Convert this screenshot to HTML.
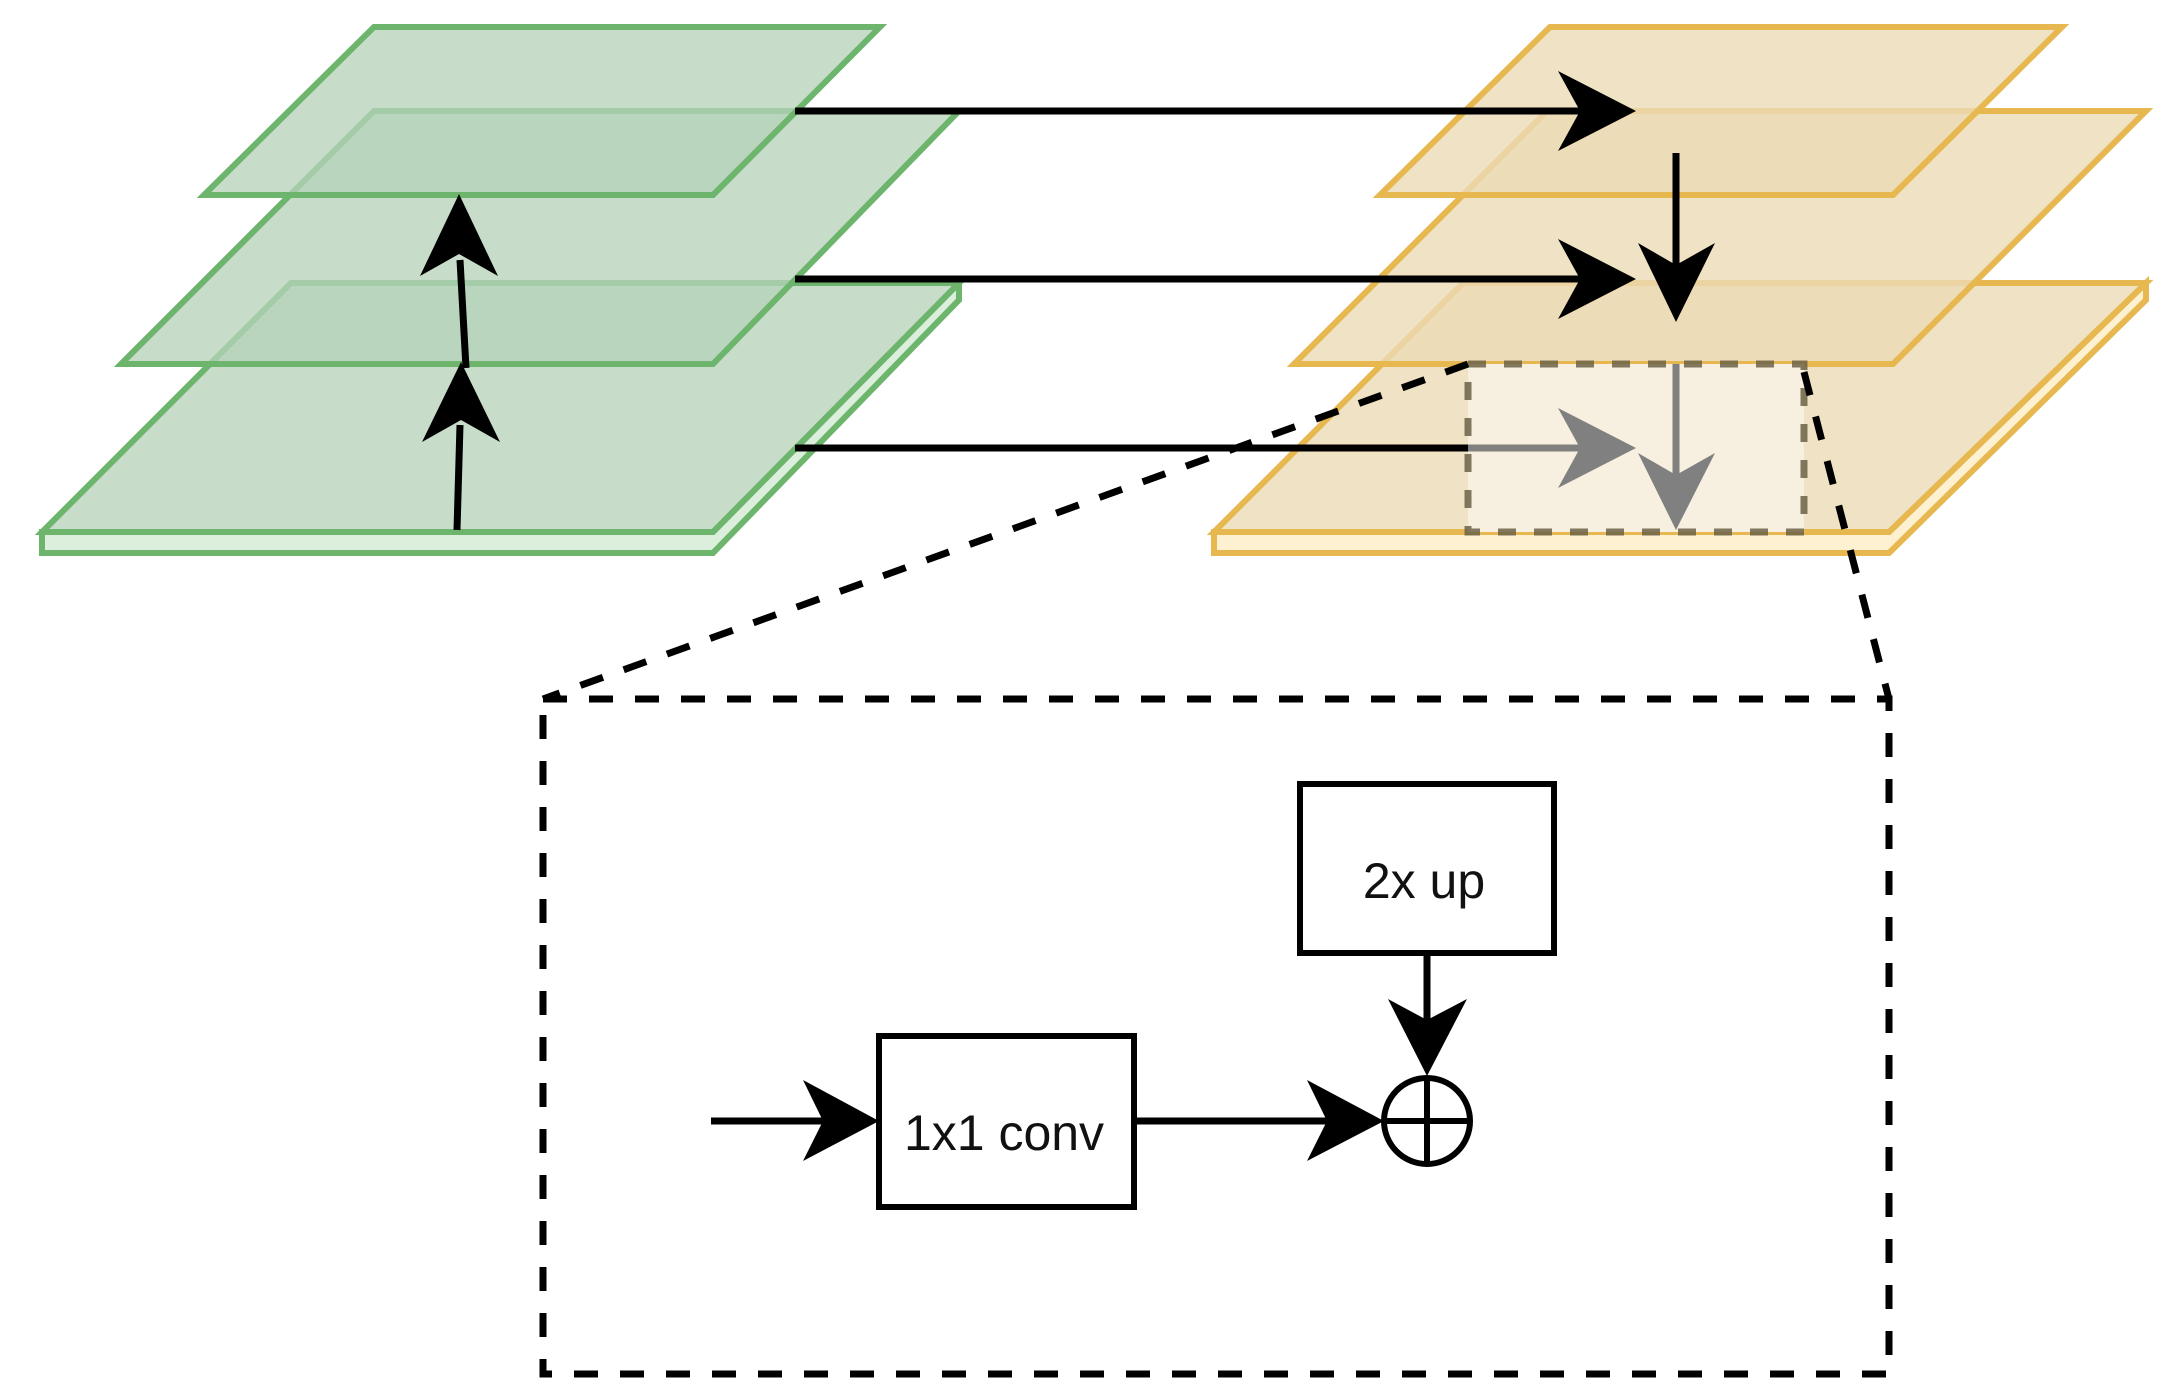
<!DOCTYPE html>
<html><head><meta charset="utf-8"><style>html,body{margin:0;padding:0;background:#fff}svg{display:block}</style></head>
<body>
<svg width="2172" height="1399" viewBox="0 0 2172 1399" xmlns="http://www.w3.org/2000/svg" font-family="Liberation Sans, sans-serif">
<!-- green stack -->
<g stroke="#6db56d" stroke-width="6" stroke-linejoin="miter">
  <polygon points="959,283 959,300 713,553 42,553 42,532 713,532" fill="#dcefdc"/>
  <polygon points="291,283 959,283 713,532 42,532" fill="rgba(182,211,186,0.77)"/>
  <polygon points="374,111 959,111 713,364 121,364" fill="rgba(182,211,186,0.77)"/>
  <polygon points="374,27 880,27 713,195 204,195" fill="rgba(182,211,186,0.77)"/>
</g>
<!-- orange stack -->
<g stroke="#e6b84f" stroke-width="6">
  <polygon points="2146,283 2146,300 1889,553 1214,553 1214,532 1889,532" fill="#fdf1d2"/>
  <polygon points="1463,283 2146,283 1889,532 1214,532" fill="rgba(236,219,181,0.8)"/>
  <polygon points="1547,111 2146,111 1893,364 1294,364" fill="rgba(236,219,181,0.8)"/>
  <polygon points="1550,27 2062,27 1893,195 1380,195" fill="rgba(236,219,181,0.8)"/>
</g>
<!-- highlight rect -->
<rect x="1468" y="364" width="336" height="168" fill="#f7efdf" stroke="#6b6147" stroke-width="7" stroke-dasharray="18 18" stroke-opacity="0.85"/>
<!-- green up arrows -->
<g stroke="#000" stroke-width="7" fill="none">
  <line x1="457" y1="530" x2="460" y2="425"/>
  <line x1="466" y1="368" x2="460" y2="260"/>
</g>
<polygon points="461,362 500,442 461,420 422,442" fill="#000"/>
<polygon points="459,194 498,276 459,254 420,276" fill="#000"/>
<!-- horizontal arrows -->
<g stroke="#000" stroke-width="7">
  <line x1="795" y1="111" x2="1590" y2="111"/>
  <line x1="795" y1="279" x2="1590" y2="279"/>
  <line x1="795" y1="448" x2="1468" y2="448"/>
</g>
<line x1="1468" y1="448" x2="1590" y2="448" stroke="#808080" stroke-width="7"/>
<polygon points="1636,111 1558,71 1580,111 1558,151" fill="#000"/>
<polygon points="1636,279 1558,239 1580,279 1558,319" fill="#000"/>
<polygon points="1636,448 1558,408 1580,448 1558,488" fill="#808080"/>
<!-- orange down arrows -->
<line x1="1676" y1="153" x2="1676" y2="280" stroke="#000" stroke-width="7"/>
<polygon points="1676,322 1715,243 1676,265 1638,243" fill="#000"/>
<line x1="1676" y1="364" x2="1676" y2="480" stroke="#808080" stroke-width="7"/>
<polygon points="1676,530 1715,453 1676,475 1638,453" fill="#808080"/>
<!-- zoom connectors -->
<g stroke="#000" stroke-width="7" stroke-dasharray="24 22" fill="none">
  <line x1="1468" y1="364" x2="543" y2="699"/>
  <line x1="1804" y1="372" x2="1889" y2="699"/>
  <rect x="543" y="699" width="1346" height="675"/>
</g>
<!-- detail -->
<g stroke="#000" stroke-width="6" fill="#fff">
  <rect x="1300" y="784" width="254" height="169"/>
  <rect x="879" y="1036" width="255" height="171"/>
  <circle cx="1427" cy="1121" r="43"/>
</g>
<g stroke="#000" stroke-width="6">
  <line x1="1384" y1="1121" x2="1470" y2="1121"/>
  <line x1="1427" y1="1078" x2="1427" y2="1164"/>
</g>
<g stroke="#000" stroke-width="7">
  <line x1="711" y1="1121" x2="830" y2="1121"/>
  <line x1="1134" y1="1121" x2="1335" y2="1121"/>
  <line x1="1427" y1="953" x2="1427" y2="1030"/>
</g>
<polygon points="879,1121 803,1080 823,1121 803,1161" fill="#000"/>
<polygon points="1384,1121 1307,1080 1327,1121 1307,1161" fill="#000"/>
<polygon points="1427,1076 1467,999 1427,1020 1388,999" fill="#000"/>
<text x="1424" y="898" font-size="50" text-anchor="middle" fill="#111">2x up</text>
<text x="1004" y="1150" font-size="50" text-anchor="middle" fill="#111">1x1 conv</text>
</svg>
</body></html>
